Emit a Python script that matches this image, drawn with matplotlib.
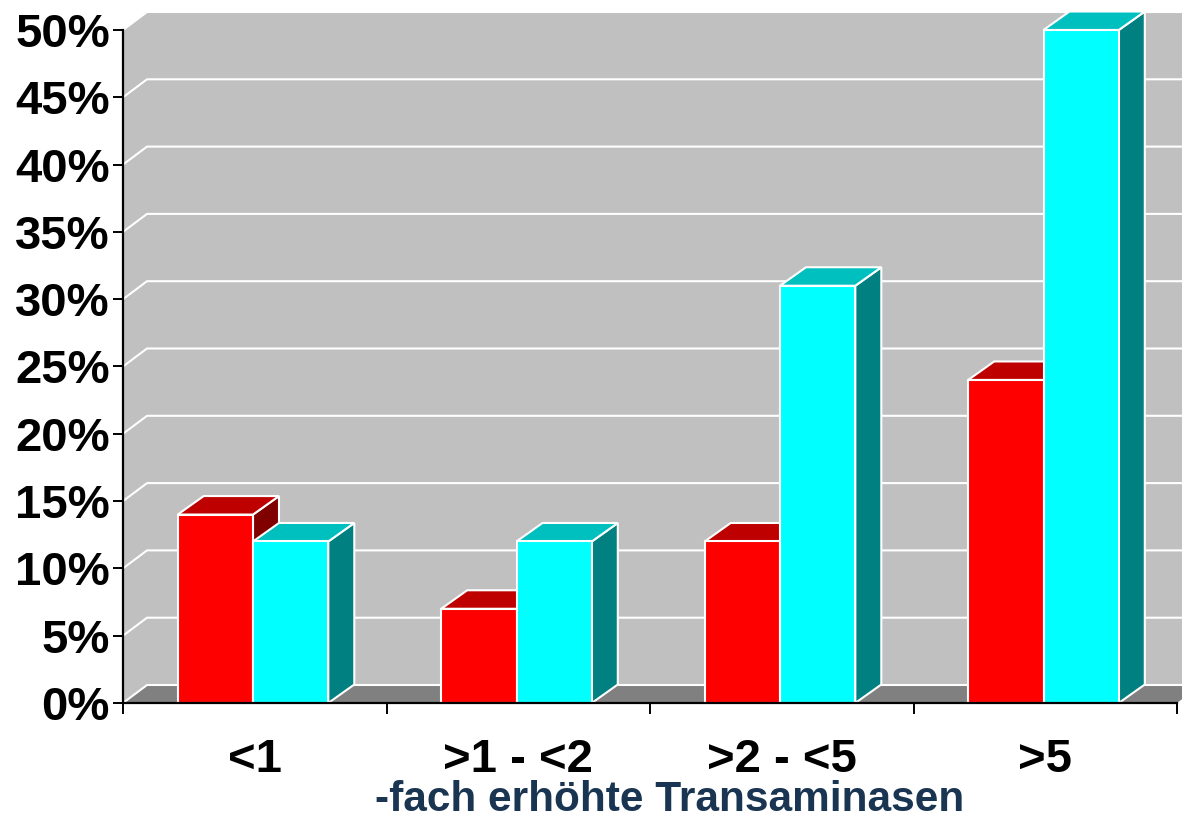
import matplotlib
matplotlib.use("Agg")
import matplotlib.pyplot as plt
from matplotlib.patches import Polygon

plt.rcParams['font.family'] = ['Liberation Sans', 'DejaVu Sans']

# Data
categories = ['<1', '>1 - <2', '>2 - <5', '>5']
series_red = [14, 7, 12, 24]
series_cyan = [12, 12, 31, 50]
y_ticks = [0, 5, 10, 15, 20, 25, 30, 35, 40, 45, 50]
y_tick_labels = [f'{v}%' for v in y_ticks]
x_title = '-fach erhöhte Transaminasen'

W, H = 1182, 818
fig = plt.figure(figsize=(W / 100, H / 100), dpi=100)
fig.patch.set_facecolor('white')

# plot area in pixels
x0, x1 = 123, 1177
y0, y1 = 703, 30
ax = fig.add_axes([x0 / W, (H - y0) / H, (x1 - x0) / W, (y0 - y1) / H])
ax.set_xlim(0, len(categories))
ax.set_ylim(0, 50)
ax.patch.set_visible(False)

px_x = (x1 - x0) / len(categories)   # pixels per category
px_y = (y0 - y1) / 50.0              # pixels per percent

# depth offsets of the 3D look
wdx, wdy = 24 / px_x, 18 / px_y
bdx, bdy = 26 / px_x, 18.5 / px_y

n = len(categories)
wall_c = '#c0c0c0'
floor_c = '#808080'
x_far = n + wdx + 0.2

# back wall and left side wall
ax.add_patch(Polygon([(wdx, wdy), (x_far, wdy), (x_far, 50 + wdy), (wdx, 50 + wdy)],
                     closed=True, facecolor=wall_c, edgecolor='none', zorder=0, clip_on=False))
ax.add_patch(Polygon([(0, 0), (wdx, wdy), (wdx, 50 + wdy), (0, 50)],
                     closed=True, facecolor=wall_c, edgecolor='none', zorder=0, clip_on=False))
# floor
ax.add_patch(Polygon([(0, 0), (n, 0), (n + wdx, wdy), (wdx, wdy)],
                     closed=True, facecolor=floor_c, edgecolor='none', zorder=1, clip_on=False))
# gridlines on the walls
for v in y_ticks:
    ax.plot([0, wdx, x_far], [v, v + wdy, v + wdy], color='white', lw=1.5,
            zorder=1.5, clip_on=False, solid_joinstyle='miter')

# bars
bar_off = 54.7 / px_x
bar_w = 75.3 / px_x
faces = {
    'red': ('#ff0000', '#bf0000', '#800000'),
    'cyan': ('#00ffff', '#00bfbf', '#008080'),
}


def draw_bar(left, value, cols, z):
    front, top, side = cols
    r = left + bar_w
    kw = dict(closed=True, edgecolor='white', linewidth=1.5, joinstyle='miter',
              zorder=z, clip_on=False)
    ax.add_patch(Polygon([(r, 0), (r + bdx, bdy), (r + bdx, value + bdy), (r, value)],
                         facecolor=side, **kw))
    ax.add_patch(Polygon([(left, value), (r, value), (r + bdx, value + bdy), (left + bdx, value + bdy)],
                         facecolor=top, **kw))
    ax.add_patch(Polygon([(left, 0), (r, 0), (r, value), (left, value)],
                         facecolor=front, **kw))


for i in range(n):
    draw_bar(i + bar_off, series_red[i], faces['red'], 3 + i * 2)
    draw_bar(i + bar_off + bar_w, series_cyan[i], faces['cyan'], 4 + i * 2)

# axes
for s in ['top', 'right']:
    ax.spines[s].set_visible(False)
for s in ['left', 'bottom']:
    ax.spines[s].set_linewidth(1.6)
    ax.spines[s].set_zorder(20)

ax.set_yticks(y_ticks)
ax.set_yticklabels(y_tick_labels, fontsize=34, fontweight='bold')
ax.tick_params(axis='y', direction='out', length=7.2, width=1.4, pad=2.2)

ax.set_xticks(range(n + 1))
ax.set_xticklabels([])
ax.set_xticks([i + 0.5 for i in range(n)], minor=True)
ax.set_xticklabels(categories, minor=True, fontsize=34, fontweight='bold')
ax.tick_params(axis='x', which='major', direction='out', length=8, width=1.4)
ax.tick_params(axis='x', which='minor', length=0, pad=25)

ax.set_xlabel(x_title, fontsize=30.5, fontweight='bold', color='#1a3552', va='center')
ax.xaxis.set_label_coords((670 - x0) / (x1 - x0), -(800 - y0) / (y0 - y1))

fig.savefig('out.png', dpi=100, facecolor='white')
